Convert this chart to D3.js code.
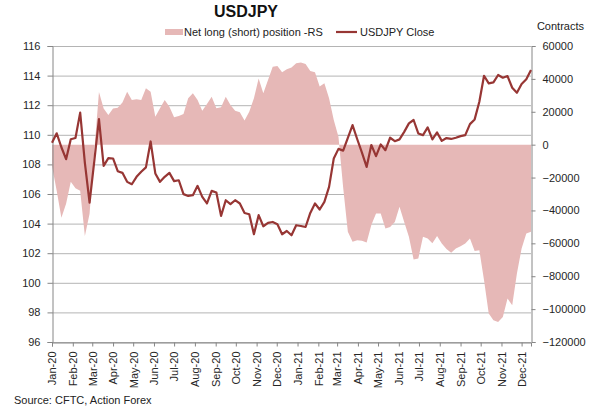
<!DOCTYPE html>
<html>
<head>
<meta charset="utf-8">
<script src="https://cdn.jsdelivr.net/npm/d3@7"></script>
<style>
    body { margin: 0; background: #fff; }
    #chart { width: 600px; height: 418px; }
    text { font-family: "Liberation Sans", Arial, sans-serif; fill: #222; }
</style>
</head>
<body>
<div id="chart"></div>
<script>
// weekly CFTC report dates (Tuesdays), first one below, one value per week
const first_week = "2020-01-07";

const usdjpy_close = [
    109.46, 110.1, 109.16, 108.35, 109.7, 109.78, 111.5, 108.1, 105.42, 108.2,
    111.06, 107.9, 108.42, 108.4, 107.54, 107.43, 106.82, 106.66, 107.16, 107.5,
    107.8, 109.55, 107.39, 106.82, 107.16, 107.43, 106.87, 106.93, 105.99, 105.87,
    105.92, 106.55, 105.81, 105.36, 106.21, 106.1, 104.52, 105.58, 105.31, 105.58,
    105.36, 104.72, 104.63, 103.28, 104.57, 103.82, 104.05, 104.11, 103.96, 103.28,
    103.5, 103.21, 103.89, 103.84, 103.77, 104.72, 105.36, 104.95, 105.47, 106.48,
    108.4, 109.05, 108.93, 109.8, 110.66, 109.7, 108.8, 107.83, 109.31, 108.56,
    109.35, 108.96, 109.8, 109.57, 109.69, 110.2, 110.77, 111.0, 110.09, 109.98,
    110.5, 109.69, 110.16, 109.59, 109.78, 109.72, 109.8, 109.91, 109.98, 110.72,
    111.04, 112.23, 113.99, 113.48, 113.54, 114.04, 113.86, 113.97, 113.18, 112.84,
    113.43, 113.75, 114.38
];

const net_position = [
    -13000, -28000, -44500, -36000, -22600, -26500, -28000, -55600, -42000, -4000,
    32000, 22000, 18000, 22000, 22500, 25700, 32200, 27100, 27600, 27100,
    34300, 32200, 17000, 22100, 27100, 23100, 16600, 17400, 18600, 28200,
    31200, 27100, 20600, 24700, 29200, 22100, 22700, 29200, 24100, 20600,
    19700, 14700, 20000, 28200, 40300, 31200, 39300, 47400, 47800, 44000,
    45800, 47000, 49500, 49900, 49100, 44800, 44000, 35300, 37300, 28200,
    15000, 4800, -26000, -53000, -59100, -58100, -58500, -59500, -48900, -41800,
    -41800, -51000, -50000, -47000, -37800, -47000, -56000, -69800, -69200, -56000,
    -57000, -60000, -55600, -60100, -63400, -65700, -63100, -61700, -60100, -57000,
    -64600, -64200, -82400, -102700, -106800, -107800, -104800, -93600, -97600, -78400,
    -63100, -54000, -53000
];

const month_labels = ["Jan-20", "Feb-20", "Mar-20", "Apr-20", "May-20", "Jun-20", "Jul-20", "Aug-20",
                      "Sep-20", "Oct-20", "Nov-20", "Dec-20", "Jan-21", "Feb-21", "Mar-21", "Apr-21",
                      "May-21", "Jun-21", "Jul-21", "Aug-21", "Sep-21", "Oct-21", "Nov-21", "Dec-21"];
const price_ticks = [96, 98, 100, 102, 104, 106, 108, 110, 112, 114, 116];
const contract_ticks = [-120000, -100000, -80000, -60000, -40000, -20000, 0, 20000, 40000, 60000];

class Cot_chart {
    constructor(dom_container_id) {
        this.container_id = dom_container_id;
        document.getElementById(dom_container_id).innerHTML = "";
    }

    init() {
        let self = this;
        this.width = 600;
        this.height = 418;
        this.left = 52;
        this.right = 531;
        this.top = 46;
        this.bottom = 342;
        this.line_color = "#973634";
        this.area_color = "#e6b8b7";

        let start = d3.timeParse("%Y-%m-%d")(first_week);
        this.weeks = usdjpy_close.map(function(d, i) { return d3.timeDay.offset(start, 7 * i); });
        this.months = month_labels.map(function(d, i) { return d3.timeMonth.offset(start, i); });

        this.svg = d3.select("#" + this.container_id)
            .append("svg")
            .attr("width", this.width)
            .attr("height", this.height);

        this.x = d3.scaleTime()
            .domain([this.weeks[0], this.weeks[this.weeks.length - 1]])
            .range([this.left, this.right]);

        this.y_price = d3.scaleLinear()
            .domain([96, 116])
            .range([this.bottom, this.top]);

        this.y_contracts = d3.scaleLinear()
            .domain([-120000, 60000])
            .range([this.bottom, this.top]);

        this.draw_grid();
        this.draw_area();
        this.draw_axes();
        this.draw_line();
        this.draw_texts();
    }

    draw_grid() {
        let self = this;
        this.svg.append("g")
            .selectAll("line")
            .data(price_ticks)
            .enter().append("line")
            .attr("x1", this.left)
            .attr("x2", this.right)
            .attr("y1", function(d) { return self.y_price(d) + 0.5; })
            .attr("y2", function(d) { return self.y_price(d) + 0.5; })
            .style("stroke", "#b4b4b4")
            .style("stroke-width", 1);
    }

    draw_area() {
        let self = this;
        let area = d3.area()
            .x(function(d, i) { return self.x(self.weeks[i]); })
            .y0(self.y_contracts(0))
            .y1(function(d) { return self.y_contracts(d); });

        this.svg.append("path")
            .datum(net_position)
            .attr("d", area)
            .style("fill", this.area_color)
            .style("stroke", "none");
    }

    draw_line() {
        let self = this;
        let line = d3.line()
            .x(function(d, i) { return self.x(self.weeks[i]); })
            .y(function(d) { return self.y_price(d); });

        this.svg.append("path")
            .datum(usdjpy_close)
            .attr("d", line)
            .style("fill", "none")
            .style("stroke", this.line_color)
            .style("stroke-width", 2.2)
            .style("stroke-linejoin", "round");
    }

    draw_axes() {
        let self = this;
        let fmt = d3.format("d");

        let left_axis = this.svg.append("g")
            .attr("transform", "translate(" + (this.left + 0.5) + ",0)")
            .call(d3.axisLeft(this.y_price).tickValues(price_ticks).tickSize(5).tickPadding(7).tickFormat(fmt));

        let right_axis = this.svg.append("g")
            .attr("transform", "translate(" + (this.right + 0.5) + ",0)")
            .call(d3.axisRight(this.y_contracts).tickValues(contract_ticks).tickSize(4).tickPadding(7).tickFormat(fmt));

        let bottom_axis = this.svg.append("g")
            .attr("transform", "translate(0," + (this.bottom + 0.5) + ")")
            .call(d3.axisBottom(this.x).tickValues(this.months).tickSize(4).tickFormat(function(d, i) { return month_labels[i]; }));

        bottom_axis.selectAll("text")
            .attr("transform", "rotate(-90)")
            .attr("text-anchor", "end")
            .attr("x", -9)
            .attr("y", 0)
            .attr("dy", "0.35em");

        [left_axis, right_axis, bottom_axis].forEach(function(g) {
            g.select(".domain").style("stroke", "#868686");
            g.selectAll(".tick line").style("stroke", "#868686");
            g.selectAll("text")
                .style("font-size", "11px")
                .style("font-family", "'Liberation Sans', Arial, sans-serif")
                .style("fill", "#262626");
        });
    }

    draw_texts() {
        this.svg.append("text")
            .attr("x", 246)
            .attr("y", 16.5)
            .attr("text-anchor", "middle")
            .style("font-size", "16px")
            .style("font-weight", "bold")
            .style("fill", "#111")
            .text("USDJPY");

        // legend
        let legend = this.svg.append("g");
        legend.append("rect")
            .attr("x", 165)
            .attr("y", 29)
            .attr("width", 18)
            .attr("height", 6)
            .style("fill", this.area_color);
        legend.append("text")
            .attr("x", 184)
            .attr("y", 36)
            .style("font-size", "11px")
            .text("Net long (short) position -RS");
        legend.append("line")
            .attr("x1", 336)
            .attr("x2", 357)
            .attr("y1", 32)
            .attr("y2", 32)
            .style("stroke", this.line_color)
            .style("stroke-width", 2.2);
        legend.append("text")
            .attr("x", 360)
            .attr("y", 36)
            .style("font-size", "11px")
            .text("USDJPY Close");

        this.svg.append("text")
            .attr("x", 584)
            .attr("y", 30)
            .attr("text-anchor", "end")
            .style("font-size", "11px")
            .text("Contracts");

        this.svg.append("text")
            .attr("x", 14)
            .attr("y", 404)
            .style("font-size", "11px")
            .text("Source: CFTC, Action Forex");
    }
}

let chart = new Cot_chart("chart");
chart.init();
</script>
</body>
</html>
